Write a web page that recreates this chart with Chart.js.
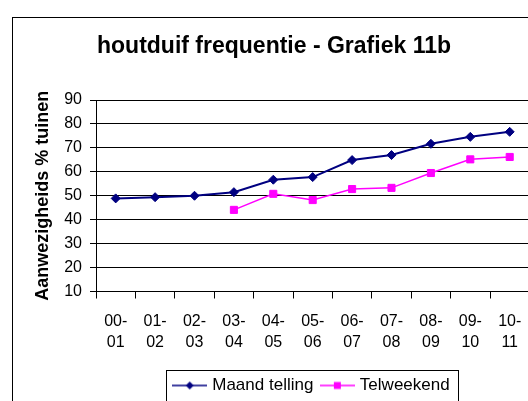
<!DOCTYPE html>
<html>
<head>
<meta charset="utf-8">
<script src="https://cdn.jsdelivr.net/npm/chart.js@4"></script>
<style>
  html, body { margin: 0; padding: 0; background: #fff; overflow: hidden; }
  #wrap { width: 548px; height: 404px; }
</style>
</head>
<body>
<div id="wrap"><canvas id="myChart" width="548" height="404"></canvas></div>
<script>
// seizoenen (x-as), twee regels per label
var seasons = [['00-', '01'], ['01-', '02'], ['02-', '03'], ['03-', '04'], ['04-', '05'], ['05-', '06'],
               ['06-', '07'], ['07-', '08'], ['08-', '09'], ['09-', '10'], ['10-', '11']];
var maandTelling = [48.9, 49.4, 50.0, 51.5, 56.7, 57.8, 64.9, 67.0, 71.7, 74.6, 76.7];
var telweekend = [null, null, null, 44.1, 50.8, 48.2, 52.8, 53.3, 59.5, 65.2, 66.2];
var yMin = 10, yMax = 90, yStep = 10;

var FONT = '"Liberation Sans", Arial, sans-serif';

// legend icons: line with marker in the middle
function legendIcon(color, shape) {
  var c = document.createElement('canvas');
  c.width = 35; c.height = 12;
  var g = c.getContext('2d');
  g.strokeStyle = color; g.lineWidth = 1.5;
  g.beginPath(); g.moveTo(0, 6); g.lineTo(35, 6); g.stroke();
  g.fillStyle = color;
  g.beginPath();
  if (shape === 'diamond') {
    g.moveTo(17.5, 2); g.lineTo(21.5, 6); g.lineTo(17.5, 10); g.lineTo(13.5, 6);
  } else {
    g.rect(14, 2.5, 7, 7);
  }
  g.closePath(); g.fill();
  return c;
}
var icons = [legendIcon('#000080', 'diamond'), legendIcon('#ff00ff', 'square')];

var framePlugin = {
  id: 'frame',
  beforeDraw: function (chart) {
    var c = chart.ctx;
    c.save();
    c.fillStyle = '#fff';
    c.fillRect(0, 0, chart.width, chart.height);
    c.strokeStyle = '#000';
    c.lineWidth = 1;
    c.strokeRect(12.5, 17.5, 600, 500);
    c.restore();
  },
  afterDraw: function (chart) {
    var hb = chart.legend.legendHitBoxes;
    if (!hb || !hb.length) return;
    var c = chart.ctx;
    var last = hb[hb.length - 1];
    var l = Math.round(hb[0].left - 9.5) + 0.5;
    var r = Math.round(last.left + last.width + 8) + 0.5;
    var t = Math.round(hb[0].top - 7.5) + 0.5;
    c.save();
    c.strokeStyle = '#000';
    c.lineWidth = 1;
    c.strokeRect(l, t, r - l, 100);
    c.restore();
  }
};

var ctx = document.getElementById('myChart').getContext('2d');
var myChart = new Chart(ctx, {
  type: 'line',
  data: {
    labels: seasons,
    datasets: [{
      label: 'Maand telling',
      data: maandTelling,
      borderColor: '#000080',
      backgroundColor: '#000080',
      borderWidth: 2,
      pointStyle: 'rectRot',
      pointRadius: 4.5,
      pointBorderWidth: 1,
      fill: false,
      tension: 0
    }, {
      label: 'Telweekend',
      data: telweekend,
      borderColor: '#ff00ff',
      backgroundColor: '#ff00ff',
      borderWidth: 1.5,
      pointStyle: 'rect',
      pointRadius: 5,
      pointBorderWidth: 1,
      fill: false,
      tension: 0
    }]
  },
  options: {
    responsive: false,
    animation: false,
    devicePixelRatio: 1,
    layout: { padding: 0 },
    scales: {
      x: {
        offset: true,
        grid: { display: true, drawOnChartArea: false, drawTicks: true, tickLength: 7, offset: true, color: '#000' },
        border: { display: true, color: '#000' },
        ticks: { color: '#000', font: { family: FONT, size: 16, lineHeight: 1.3 }, padding: 13, maxRotation: 0, autoSkip: false },
        afterFit: function (s) { s.height = 75.5; }
      },
      y: {
        min: yMin,
        max: yMax,
        grid: { color: '#000', tickLength: 6 },
        border: { display: true, color: '#000' },
        ticks: { stepSize: yStep, color: '#000', font: { family: FONT, size: 16 }, padding: 8 },
        title: {
          display: true,
          text: 'Aanwezigheids % tuinen',
          color: '#000',
          font: { family: FONT, size: 18, weight: 'bold' },
          padding: { top: 32, bottom: 0 }
        },
        afterFit: function (s) { s.width = 96; }
      },
      yR: {
        position: 'right',
        display: true,
        grid: { display: false, drawTicks: false },
        border: { display: false },
        ticks: { display: false },
        afterFit: function (s) { s.width = 18.6; }
      }
    },
    plugins: {
      title: {
        display: true,
        text: 'houtduif frequentie - Grafiek 11b',
        color: '#000',
        font: { family: FONT, size: 23, weight: 'bold' },
        padding: { top: 33, bottom: 39.4 }
      },
      legend: {
        display: true,
        position: 'bottom',
        fullSize: false,
        labels: {
          color: '#000',
          font: { family: FONT, size: 17 },
          usePointStyle: true,
          pointStyleWidth: 28,
          padding: 10,
          generateLabels: function (chart) {
            var items = Chart.defaults.plugins.legend.labels.generateLabels(chart);
            items.forEach(function (it, i) { it.pointStyle = icons[i]; });
            return items;
          }
        }
      },
      tooltip: { enabled: false }
    }
  },
  plugins: [framePlugin]
});
</script>
</body>
</html>
